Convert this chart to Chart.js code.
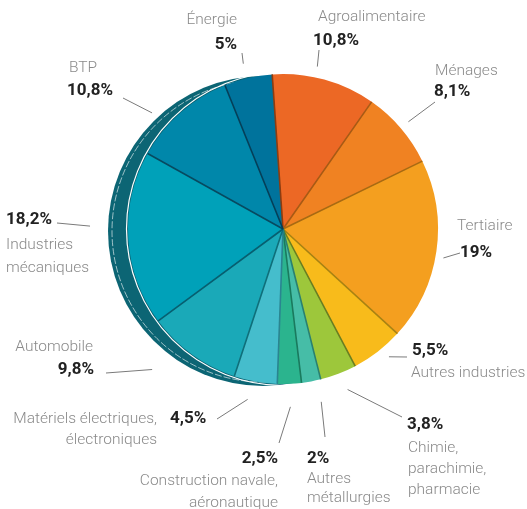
<!DOCTYPE html>
<html lang="fr">
<head>
<meta charset="utf-8">
<script src="https://cdn.jsdelivr.net/npm/chart.js@4"></script>
<style>
  html, body { margin: 0; padding: 0; background: #fff; }
  #wrap { width: 527px; height: 509px; position: relative; }
</style>
</head>
<body>
<div id="wrap"><canvas id="chart"></canvas></div>
<script>
// Données (sens horaire à partir du haut)
const secteurs = ['Agroalimentaire', 'Ménages', 'Tertiaire', 'Autres industries', 'Chimie, parachimie, pharmacie',
  'Autres métallurgies', 'Construction navale, aéronautique', 'Matériels électriques, électroniques',
  'Automobile', 'Industries mécaniques', 'BTP', 'Énergie'];
const parts = [10.8, 8.1, 19, 5.5, 3.8, 2, 2.5, 4.5, 9.8, 18.2, 10.8, 5];
const lignesNoms = [['Agroalimentaire'], ['Ménages'], ['Tertiaire'], ['Autres industries'],
  ['Chimie,', 'parachimie,', 'pharmacie'], ['Autres', 'métallurgies'], ['Construction navale,', 'aéronautique'],
  ['Matériels électriques,', 'électroniques'], ['Automobile'], ['Industries', 'mécaniques'], ['BTP'], ['Énergie']];

const couleurs = ['#ec6825', '#f08222', '#f49f1f', '#f8bb1b', '#9dc73b', '#46bda7',
  '#2bb48e', '#45bdcc', '#1aa9b8', '#00a1b9', '#0087aa', '#00739c'];
const couleursTrait = ['#8c3c10', '#a85a14', '#a86a12', '#a88212', '#6a7e20', '#2a8070',
  '#1a7a5e', '#2a8590', '#0f6f7a', '#075f70', '#074a60', '#053f58'];

// Placement des étiquettes : [x, y, alignement] ; fin du trait de rappel ;
// écart depuis le bord et décalage angulaire (degrés) du départ du trait
const placements = [
  { pct: [313, 45, 'left'],  nom: [318, 21, 'left'],  lh: 0,  fin: [319, 50],  ecart: 11, decal: -3.5 },
  { pct: [434, 96, 'left'],  nom: [435, 75, 'left'],  lh: 0,  fin: [435, 102], ecart: 10, decal: 0 },
  { pct: [460, 257, 'left'], nom: [457, 230, 'left'], lh: 0,  fin: [460, 253], ecart: 8,  decal: 2 },
  { pct: [412, 355, 'left'], nom: [411, 377, 'left'], lh: 0,  fin: [407, 357], ecart: 11, decal: -2 },
  { pct: [407, 429, 'left'], nom: [408, 452, 'left'], lh: 21, fin: [402, 417], ecart: 18, decal: -1 },
  { pct: [307, 463, 'left'], nom: [307, 483, 'left'], lh: 19, fin: [325, 437], ecart: 22, decal: -2 },
  { pct: [278, 463, 'right'], nom: [278, 485, 'right'], lh: 22, fin: [279, 443], ecart: 23, decal: 0 },
  { pct: [170, 423, 'left'], nom: [157, 423, 'right'], lh: 21, fin: [217, 419], ecart: 19, decal: 1.5 },
  { pct: [94, 374, 'right'], nom: [93, 351, 'right'], lh: 0,  fin: [106, 373], ecart: 37, decal: 7 },
  { pct: [6, 224, 'left'],   nom: [6, 249, 'left'],   lh: 23, fin: [57, 223],  ecart: 38, decal: 4.5 },
  { pct: [67, 95, 'left'],   nom: [69, 72, 'left'],   lh: 0,  fin: [123, 98],  ecart: 20, decal: -7 },
  { pct: [237, 49, 'right'], nom: [237, 24, 'right'], lh: 0,  fin: [242, 53],  ecart: 15, decal: -0.5 }
];

const fmtPct = (v) => v.toLocaleString('fr-FR') + '%';

// Épaisseur "3D" sur la gauche du camembert
const relief = {
  id: 'relief',
  beforeDatasetsDraw(chart) {
    const arc = chart.getDatasetMeta(0).data[0];
    if (!arc) return;
    const { x, y, outerRadius: r } = arc;
    const ctx = chart.ctx;
    ctx.save();
    ctx.fillStyle = '#0c6574';
    ctx.beginPath();
    ctx.arc(x - 20, y + 2, r, 0, Math.PI * 2);
    ctx.fill();
    ctx.strokeStyle = 'rgba(255,255,255,0.75)';
    ctx.lineWidth = 0.8;
    ctx.setLineDash([7, 2]);
    ctx.beginPath();
    ctx.arc(x - 20, y + 2, r - 4, 0, Math.PI * 2);
    ctx.stroke();
    ctx.setLineDash([]);
    ctx.strokeStyle = '#ffffff';
    ctx.lineWidth = 1.2;
    ctx.beginPath();
    ctx.arc(x, y, r + 1.5, 0, Math.PI * 2);
    ctx.stroke();
    ctx.restore();
  },
  afterDatasetsDraw(chart) {
    const ctx = chart.ctx;
    ctx.save();
    ctx.lineWidth = 1.6;
    chart.getDatasetMeta(0).data.forEach((arc, i) => {
      const a = arc.startAngle;
      ctx.strokeStyle = couleursTrait[i];
      ctx.beginPath();
      ctx.moveTo(arc.x, arc.y);
      ctx.lineTo(arc.x + Math.cos(a) * arc.outerRadius, arc.y + Math.sin(a) * arc.outerRadius);
      ctx.stroke();
    });
    ctx.restore();
  }
};

// Étiquettes et traits de rappel
const etiquettes = {
  id: 'etiquettes',
  afterDraw(chart) {
    const ctx = chart.ctx;
    ctx.save();
    chart.getDatasetMeta(0).data.forEach((arc, i) => {
      const p = placements[i];
      const mid = (arc.startAngle + arc.endAngle) / 2 + p.decal * Math.PI / 180;
      const rr = arc.outerRadius + p.ecart;
      ctx.strokeStyle = '#7a7a7a';
      ctx.lineWidth = 1;
      ctx.beginPath();
      ctx.moveTo(arc.x + Math.cos(mid) * rr, arc.y + Math.sin(mid) * rr);
      ctx.lineTo(p.fin[0], p.fin[1]);
      ctx.stroke();

      ctx.textBaseline = 'alphabetic';
      ctx.font = 'bold 17px Roboto, "Liberation Sans", sans-serif';
      ctx.fillStyle = '#222222';
      ctx.textAlign = p.pct[2];
      ctx.fillText(fmtPct(parts[i]), p.pct[0], p.pct[1]);

      ctx.font = '300 15.5px Roboto, "Liberation Sans", sans-serif';
      ctx.fillStyle = '#8a8a8a';
      ctx.textAlign = p.nom[2];
      lignesNoms[i].forEach((l, k) => ctx.fillText(l, p.nom[0], p.nom[1] + k * p.lh));
    });
    ctx.restore();
  }
};

new Chart(document.getElementById('chart'), {
  type: 'pie',
  data: {
    labels: secteurs,
    datasets: [{
      data: parts,
      backgroundColor: couleurs,
      borderWidth: 0
    }]
  },
  options: {
    responsive: true,
    maintainAspectRatio: false,
    animation: false,
    rotation: -4,
    layout: { padding: { left: 128, right: 89, top: 74, bottom: 125 } },
    plugins: {
      legend: { display: false },
      tooltip: { enabled: false }
    },
    events: []
  },
  plugins: [relief, etiquettes]
});
</script>
</body>
</html>
